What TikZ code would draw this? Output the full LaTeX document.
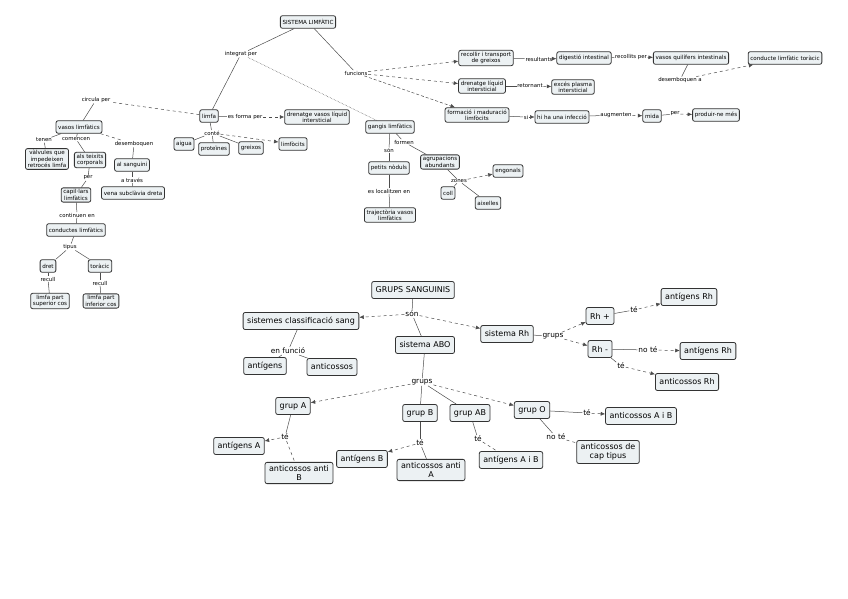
\documentclass[tikz,border=0pt]{standalone}
\usepackage{fontspec}
\setmainfont{DejaVu Sans}
\usetikzlibrary{arrows.meta}
\definecolor{cmfill}{RGB}{236,241,243}
\begin{document}
\begin{tikzpicture}[
    x=1pt, y=-1pt,
    concept/.style={draw=black!80, line width=0.8pt, fill=cmfill, rounded corners=2pt,
      inner xsep=2.2pt, inner ysep=1.8pt, minimum height=12.5pt, align=center, font=\fontsize{5.6}{6.3}\selectfont},
    bigconcept/.style={concept, inner xsep=4pt, inner ysep=3pt, minimum height=17pt, font=\fontsize{8}{9.2}\selectfont},
    lbl/.style={inner sep=0.6pt, fill=white, font=\fontsize{5.4}{6.2}\selectfont},
    biglbl/.style={inner sep=0.8pt, fill=white, font=\fontsize{7.4}{8.4}\selectfont},
    link/.style={black!70, line width=0.5pt},
    dlink/.style={link, dashed},
    arr/.style={link, dashed, -{Latex[length=4.5pt,width=4pt]}}
  ]
  \useasboundingbox (0,0) rectangle (848,599);

  % Sistema limfatic: top and functions
  \node[concept] (sl) at (308,22) {SISTEMA LIMFÀTIC};
  \node[lbl] (integ) at (241,54) {integrat per};
  \node[lbl] (func) at (356,73) {funcions};
  \node[concept] (recollir) at (486,58) {recollir i transport\\de greixos};
  \node[lbl] (resul) at (539,59) {resultants};
  \node[concept] (digest) at (584,58) {digestió intestinal};
  \node[lbl] (recpe) at (631,57) {recollits per};
  \node[concept] (quil) at (691,58) {vasos quilífers intestinals};
  \node[lbl] (desemb) at (680,80) {desemboquen a};
  \node[concept] (conducte) at (785,58) {conducte limfàtic toràcic};
  \node[concept] (dren) at (482,86) {drenatge líquid\\intersticial};
  \node[lbl] (retorn) at (530,86) {retornant};
  \node[concept] (exces) at (573,87) {excés plasma\\intersticial};
  \node[concept] (formac) at (477,115) {formació i maduració\\limfòcits};
  \node[lbl] (si) at (526,117) {si};
  \node[concept] (infec) at (562,117) {hi ha una infecció};
  \node[lbl] (augm) at (616,115) {augmenten};
  \node[concept] (mida) at (652,116) {mida};
  \node[lbl] (per) at (675,114) {per};
  \node[concept] (produir) at (716,115) {produir-ne més};

  % Limfa
  \node[concept] (limfa) at (209,116) {limfa};
  \node[lbl] (esforma) at (245,117) {es forma per};
  \node[concept] (drenv) at (317,117) {drenatge vasos líquid\\intersticial};
  \node[lbl] (conte) at (212,133) {conté};
  \node[concept] (aigua) at (184,144) {aigua};
  \node[concept] (prot) at (214,149) {proteïnes};
  \node[concept] (greix) at (251,148) {greixos};
  \node[concept] (limfoc) at (293,144) {limfòcits};

  % Vasos limfatics
  \node[lbl] (circ) at (96,100) {circula per};
  \node[concept] (vasos) at (79,127) {vasos limfàtics};
  \node[lbl] (tenen) at (44,140) {tenen};
  \node[lbl] (comen) at (76,139) {comencen};
  \node[lbl] (desq) at (134,144) {desemboquen};
  \node[concept] (valv) at (47,159) {vàlvules que\\impedeixen\\retrocés limfa};
  \node[concept] (teix) at (90,160) {als teixits\\corporals};
  \node[concept] (sang) at (132,165) {al sanguini};
  \node[lbl] (per2) at (88,178) {per};
  \node[lbl] (atrav) at (132,180) {a través};
  \node[concept] (capil) at (76,195) {capil·lars\\limfàtics};
  \node[concept] (vena) at (133,193) {vena subclàvia dreta};
  \node[lbl] (cont) at (77,215) {continuen en};
  \node[concept] (condl) at (76,230) {conductes limfàtics};
  \node[lbl] (tipus) at (70,247) {tipus};
  \node[concept] (dret) at (48,266) {dret};
  \node[concept] (torac) at (100,266) {toràcic};
  \node[lbl] (rec1) at (48,279) {recull};
  \node[lbl] (rec2) at (100,283) {recull};
  \node[concept] (sup) at (50,301) {limfa part\\superior cos};
  \node[concept] (inf) at (101,301) {limfa part\\inferior cos};

  % Gangis limfatics
  \node[concept] (gangl) at (390,127) {gangis limfàtics};
  \node[lbl] (formen) at (404,142) {formen};
  \node[lbl] (son) at (389,150) {són};
  \node[concept] (nodul) at (389,168) {petits nòduls};
  \node[lbl] (local) at (389,191) {es localitzen en};
  \node[concept] (traj) at (390,215) {trajectòria vasos\\limfàtics};
  \node[concept] (agrup) at (440,162) {agrupacions\\abundants};
  \node[lbl] (zones) at (459,181) {zones};
  \node[concept] (engon) at (508,171) {engonals};
  \node[concept] (coll) at (448,193) {coll};
  \node[concept] (aix) at (488,203) {aixelles};

  \draw[link] (sl) -- (integ);
  \draw[link] (sl) -- (func);
  \draw[link] (integ) -- (limfa);
  \draw[link, densely dotted] (integ) -- (gangl);
  \draw[arr] (func) -- (recollir);
  \draw[arr] (func) -- (dren);
  \draw[arr, densely dashed] (func) -- (formac);
  \draw[link] (recollir) -- (resul);
  \draw[arr] (resul) -- (digest);
  \draw[link] (digest) -- (recpe);
  \draw[arr] (recpe) -- (quil);
  \draw[link] (quil) -- (desemb);
  \draw[arr] (desemb) -- (conducte);
  \draw[link] (dren) -- (retorn);
  \draw[arr] (retorn) -- (exces);
  \draw[link] (formac) -- (si);
  \draw[arr] (si) -- (infec);
  \draw[link] (infec) -- (augm);
  \draw[arr] (augm) -- (mida);
  \draw[link] (mida) -- (per);
  \draw[arr] (per) -- (produir);

  \draw[link] (limfa) -- (esforma);
  \draw[arr] (esforma) -- (drenv);
  \draw[link] (limfa) -- (conte);
  \draw[link] (conte) -- (aigua);
  \draw[link] (conte) -- (prot);
  \draw[link] (conte) -- (greix);
  \draw[arr] (conte) -- (limfoc);
  \draw[dlink] (limfa) -- (circ);
  \draw[link] (circ) -- (vasos);

  \draw[link] (vasos) -- (tenen);
  \draw[link] (tenen) -- (valv);
  \draw[link] (vasos) -- (comen);
  \draw[link] (comen) -- (teix);
  \draw[dlink] (vasos) -- (desq);
  \draw[link] (desq) -- (sang);
  \draw[link] (teix) -- (per2);
  \draw[link] (per2) -- (capil);
  \draw[link] (sang) -- (atrav);
  \draw[link] (atrav) -- (vena);
  \draw[link] (capil) -- (cont);
  \draw[link] (cont) -- (condl);
  \draw[link] (condl) -- (tipus);
  \draw[link] (tipus) -- (dret);
  \draw[link] (tipus) -- (torac);
  \draw[link] (dret) -- (rec1);
  \draw[link] (rec1) -- (sup);
  \draw[link] (torac) -- (rec2);
  \draw[link] (rec2) -- (inf);

  \draw[link] (gangl) -- (son);
  \draw[link] (son) -- (nodul);
  \draw[link] (nodul) -- (local);
  \draw[link] (local) -- (traj);
  \draw[link] (gangl) -- (formen);
  \draw[link] (formen) -- (agrup);
  \draw[link] (agrup) -- (zones);
  \draw[arr] (zones) -- (engon);
  \draw[link] (zones) -- (coll);
  \draw[link] (zones) -- (aix);

  % Grups sanguinis
  \node[bigconcept] (gs) at (413,290) {GRUPS SANGUINIS};
  \node[biglbl] (son2) at (412,314) {són};
  \node[bigconcept] (scs) at (301,321) {sistemes classificació sang};
  \node[bigconcept] (abo) at (425,345) {sistema ABO};
  \node[bigconcept] (rh) at (507,334) {sistema Rh};
  \node[biglbl] (grh) at (553,336) {grups};
  \node[bigconcept] (rhp) at (600,316) {Rh +};
  \node[bigconcept] (rhm) at (600,349) {Rh -};
  \node[biglbl] (te1) at (634,310) {té};
  \node[bigconcept] (agrh1) at (689,297) {antígens Rh};
  \node[biglbl] (note1) at (648,350) {no té};
  \node[bigconcept] (agrh2) at (708,351) {antígens Rh};
  \node[biglbl] (te2) at (621,366) {té};
  \node[bigconcept] (acrh) at (687,382) {anticossos Rh};
  \node[biglbl] (enf) at (288,351) {en funció};
  \node[bigconcept] (ag) at (265,366) {antígens};
  \node[bigconcept] (ac) at (332,367) {anticossos};

  \node[biglbl] (gabo) at (422,382) {grups};
  \node[bigconcept] (ga) at (293,406) {grup A};
  \node[bigconcept] (gb) at (420,413) {grup B};
  \node[bigconcept] (gab) at (470,413) {grup AB};
  \node[bigconcept] (go) at (532,410) {grup O};
  \node[biglbl] (teA) at (285,437) {té};
  \node[bigconcept] (agA) at (239,446) {antígens A};
  \node[bigconcept] (acB) at (299,473) {anticossos anti\\B};
  \node[biglbl] (teB) at (420,443) {té};
  \node[bigconcept] (agB) at (362,459) {antígens\,\,B};
  \node[bigconcept] (acA) at (431,470) {anticossos anti\\A};
  \node[biglbl] (teAB) at (478,439) {té};
  \node[bigconcept] (agAB) at (511,460) {antígens A i B};
  \node[biglbl] (teO) at (587,413) {té};
  \node[bigconcept] (acAB) at (641,416) {anticossos A i B};
  \node[biglbl] (noteO) at (556,437) {no té};
  \node[bigconcept] (accap) at (608,452) {anticossos de\\cap tipus};

  \draw[link] (gs) -- (son2);
  \draw[arr] (son2) -- (scs);
  \draw[arr] (son2) -- (rh);
  \draw[link] (son2) -- (abo);
  \draw[link] (scs) -- (enf);
  \draw[link] (enf) -- (ag);
  \draw[link] (enf) -- (ac);
  \draw[link] (rh) -- (grh);
  \draw[arr] (grh) -- (rhp);
  \draw[arr] (grh) -- (rhm);
  \draw[link] (rhp) -- (te1);
  \draw[arr] (te1) -- (agrh1);
  \draw[link] (rhm) -- (note1);
  \draw[arr] (note1) -- (agrh2);
  \draw[link] (rhm) -- (te2);
  \draw[arr] (te2) -- (acrh);

  \draw[link] (abo) -- (gabo);
  \draw[arr] (gabo) -- (ga);
  \draw[link] (gabo) -- (gb);
  \draw[link] (gabo) -- (gab);
  \draw[arr] (gabo) -- (go);
  \draw[link] (ga) -- (teA);
  \draw[arr] (teA) -- (agA);
  \draw[dlink] (teA) -- (acB);
  \draw[link] (gb) -- (teB);
  \draw[arr] (teB) -- (agB);
  \draw[link] (teB) -- (acA);
  \draw[link] (gab) -- (teAB);
  \draw[dlink] (teAB) -- (agAB);
  \draw[link] (go) -- (teO);
  \draw[arr] (teO) -- (acAB);
  \draw[link] (go) -- (noteO);
  \draw[dlink] (noteO) -- (accap);
\end{tikzpicture}
\end{document}
